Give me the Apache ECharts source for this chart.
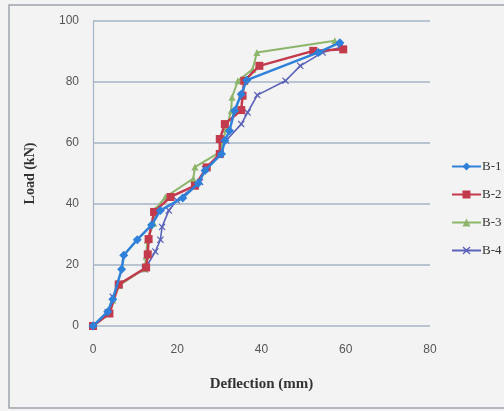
<!DOCTYPE html>
<html><head><meta charset="utf-8">
<script src="https://cdn.jsdelivr.net/npm/echarts@6/dist/echarts.min.js"></script>
<style>html,body{margin:0;padding:0;background:#f3f3f3;}#c{width:504px;height:411px;}</style>
</head><body><div id="c"></div>
<script>
const seriesNames = ['B-1', 'B-2', 'B-3', 'B-4'];
const xTicks = [0, 20, 40, 60, 80];
const yTicks = [0, 20, 40, 60, 80, 100];

const b1Deflection = [0, 3.5, 4.7, 6.8, 7.3, 10.5, 13.9, 16, 21.3, 25, 26.6, 30.5, 31.3, 32.4, 33.6, 35.2, 36.5, 53.5, 58.6];
const b1Load       = [0, 4.7, 8.8, 18.6, 23.2, 28.3, 33.1, 37.9, 42, 46.8, 51, 56.4, 60.8, 64, 70.6, 76, 80.6, 89.7, 92.9];

const b2Deflection = [0, 3.9, 6.1, 12.6, 13, 13.2, 14.5, 18.4, 24.2, 27, 30.1, 30.1, 31.3, 35.2, 35.5, 35.9, 39.5, 52.3, 59.4];
const b2Load       = [0, 4.1, 13.6, 19.2, 23.5, 28.5, 37.4, 42.3, 46, 52, 56.4, 61.3, 66.2, 70.8, 75.5, 80.4, 85.3, 90.2, 90.7];

const b3Deflection = [0, 3.5, 4.7, 6.3, 12.3, 12.6, 12.9, 14.4, 14.8, 17.2, 23.8, 24.2, 30.1, 31.6, 32.8, 33, 34.4, 37.9, 38.9, 57.4];
const b3Load       = [0, 4.1, 8.5, 13.4, 18.8, 22.9, 28.1, 33.7, 38.2, 42.3, 48.3, 52.1, 57, 64.6, 70.6, 75, 80.4, 84.2, 89.7, 93.5];

const b4Deflection = [0, 3.5, 4.7, 6.3, 12.3, 14.8, 16, 16.4, 18, 19.9, 25.4, 26.6, 30.1, 31.6, 35.2, 36.7, 39, 45.7, 49.2, 54.5, 58.6];
const b4Load       = [0, 4.5, 9.6, 13.9, 18.6, 24.4, 28.3, 32.5, 37.9, 41.2, 47.2, 51.5, 56.4, 60.8, 66.2, 70, 75.7, 80.4, 85.3, 89.7, 91.3];

const pair = (xs, ys) => xs.map((x, i) => [x, ys[i]]);
const xMark = 'path://M1,0L5,3.5L9,0L10,1L6.5,5L10,9L9,10L5,6.5L1,10L0,9L3.5,5L0,1Z';

const colors = ['#2f80d8', '#c23a4c', '#8db56c', '#5b62b8'];
const symbols = ['diamond', 'rect', 'triangle', xMark];
const sizes = [9, 8, 7, 7];
const widths = [2.5, 2.5, 2, 1.6];
const datas = [pair(b1Deflection, b1Load), pair(b2Deflection, b2Load), pair(b3Deflection, b3Load), pair(b4Deflection, b4Load)];

const chart = echarts.init(document.getElementById('c'));
chart.setOption({
  backgroundColor: '#f3f3f3',
  animation: false,
  color: colors,
  grid: { left: 93, right: 74, top: 21, bottom: 85 },
  xAxis: {
    type: 'value', min: xTicks[0], max: xTicks[xTicks.length - 1], interval: 20,
    axisLine: { show: false }, axisTick: { show: false }, splitLine: { show: false },
    axisLabel: { color: '#555', fontFamily: 'Liberation Sans Narrow, Liberation Sans', fontSize: 12, margin: 18 },
    name: 'Deflection (mm)', nameLocation: 'middle', nameGap: 51,
    nameTextStyle: { fontFamily: 'Liberation Serif', fontWeight: 'bold', fontSize: 15, color: '#333' }
  },
  yAxis: {
    type: 'value', min: yTicks[0], max: yTicks[yTicks.length - 1], interval: 20,
    axisLine: { show: true, lineStyle: { color: '#a7b4c6', width: 1.2 } },
    axisTick: { show: false },
    splitLine: { show: true, lineStyle: { color: '#a7b4c6', width: 1.5 } },
    axisLabel: { color: '#555', fontFamily: 'Liberation Sans Narrow, Liberation Sans', fontSize: 12, margin: 14 },
    name: 'Load (kN)', nameLocation: 'middle', nameGap: 56, nameRotate: 90,
    nameTextStyle: { fontFamily: 'Liberation Serif', fontWeight: 'bold', fontSize: 14, color: '#333' }
  },
  legend: {
    orient: 'vertical', left: 446, top: 155, itemGap: 15, itemWidth: 29, itemHeight: 10,
    textStyle: { fontFamily: 'Liberation Serif', fontSize: 13, color: '#333', padding: [0, 0, 0, -4] },
    data: seriesNames
  },
  graphic: [
    { type: 'rect', shape: { x: 9, y: 5, width: 520, height: 403 }, style: { fill: 'none', stroke: '#a0a5ad', lineWidth: 1.5 }, silent: true }
  ],
  series: seriesNames.map((n, i) => ({
    name: n, type: 'line', data: datas[i],
    symbol: symbols[i], symbolSize: sizes[i], showSymbol: true,
    lineStyle: { width: widths[i], color: colors[i] },
    itemStyle: { color: colors[i] },
    z: 2 + (3 - i)
  }))
});
</script></body></html>
